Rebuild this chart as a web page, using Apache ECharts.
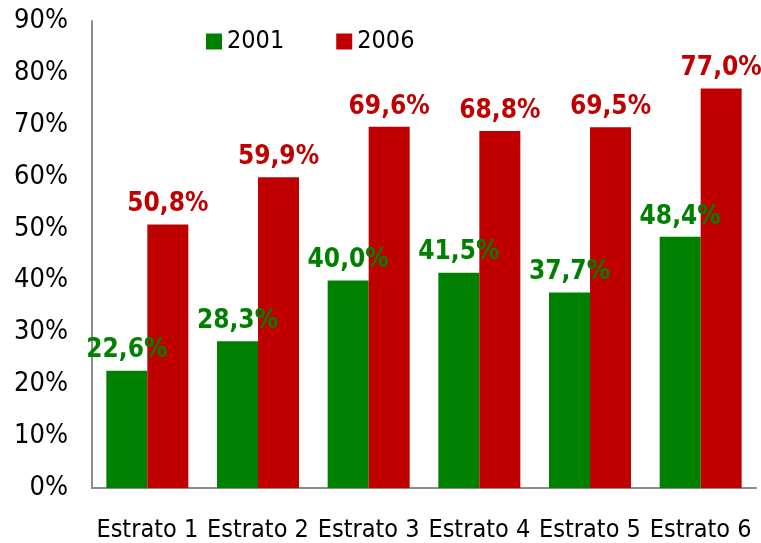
<!DOCTYPE html>
<html>
<head>
<meta charset="utf-8">
<script src="https://cdn.jsdelivr.net/npm/echarts@6/dist/echarts.min.js"></script>
<style>
  html, body { margin: 0; padding: 0; background: #fff; }
  #main { width: 761px; height: 543px; }
</style>
</head>
<body>
<div id="main"></div>
<script>
const categories = ['Estrato 1', 'Estrato 2', 'Estrato 3', 'Estrato 4', 'Estrato 5', 'Estrato 6'];
const values2001 = [22.6, 28.3, 40.0, 41.5, 37.7, 48.4];
const values2006 = [50.8, 59.9, 69.6, 68.8, 69.5, 77.0];
const seriesNames = ['2001', '2006'];

const FONT = '"DejaVu Sans Condensed", "DejaVu Sans", sans-serif';
const fmtPct = function (p) {
  return p.value.toFixed(1).replace('.', ',') + '%';
};

const myChart = echarts.init(document.getElementById('main'));
const option = {
  animation: false,
  textStyle: { fontFamily: FONT },
  legend: {
    data: seriesNames,
    left: 201,
    top: 24,
    itemWidth: 16,
    itemHeight: 16,
    itemGap: 52,
    icon: 'rect',
    textStyle: { fontSize: 25, color: '#000', fontFamily: FONT }
  },
  grid: {
    left: 92,
    right: 5,
    top: 21,
    bottom: 55,
    containLabel: false
  },
  xAxis: {
    type: 'category',
    data: categories,
    axisLine: { lineStyle: { color: '#8c8c8c', width: 2 } },
    axisTick: { show: false },
    axisLabel: { fontSize: 25, color: '#000', margin: 30, interval: 0, fontFamily: FONT }
  },
  yAxis: {
    type: 'value',
    min: 0,
    max: 90,
    interval: 10,
    splitLine: { show: false },
    axisLine: { show: true, lineStyle: { color: '#8c8c8c', width: 2 } },
    axisTick: { show: false },
    axisLabel: { fontSize: 27, color: '#000', margin: 24, formatter: '{value}%', fontFamily: FONT }
  },
  series: [
    {
      name: seriesNames[0],
      type: 'bar',
      data: values2001,
      barWidth: 41,
      barGap: '0%',
      itemStyle: { color: '#008000' },
      label: {
        show: true,
        position: 'top',
        distance: 7,
        formatter: fmtPct,
        color: '#008000',
        fontSize: 26,
        fontWeight: 'bold',
        fontFamily: FONT
      }
    },
    {
      name: seriesNames[1],
      type: 'bar',
      data: values2006,
      barWidth: 41,
      barGap: '0%',
      itemStyle: { color: '#c00000' },
      label: {
        show: true,
        position: 'top',
        distance: 7,
        formatter: fmtPct,
        color: '#c00000',
        fontSize: 26,
        fontWeight: 'bold',
        fontFamily: FONT
      }
    }
  ]
};
option && myChart.setOption(option);
</script>
</body>
</html>
